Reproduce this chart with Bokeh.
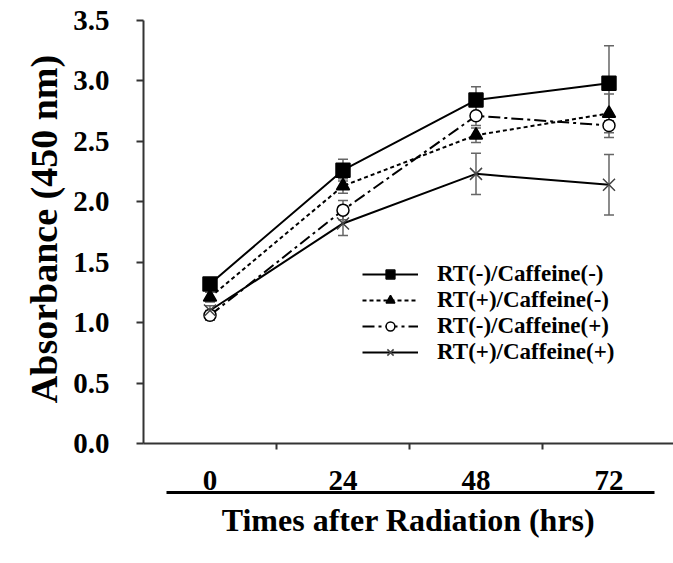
import numpy as np
from bokeh.plotting import figure
from bokeh.models import (Range1d, FixedTicker, LinearAxis, ColumnDataSource,
                          Whisker, TeeHead, Legend, LegendItem, NumeralTickFormatter)
from bokeh.embed import file_html
from bokeh.resources import INLINE

# ---------------- data ----------------
hours = ["0", "24", "48", "72"]
series_names = ["RT(-)/Caffeine(-)", "RT(+)/Caffeine(-)",
                "RT(-)/Caffeine(+)", "RT(+)/Caffeine(+)"]
s1_mean = [1.32, 2.26, 2.84, 2.98]
s1_err = [0.04, 0.09, 0.11, 0.31]
s2_mean = [1.21, 2.13, 2.55, 2.73]
s2_err = [0.04, 0.06, 0.06, 0.16]
s3_mean = [1.06, 1.93, 2.71, 2.63]
s3_err = [0.04, 0.08, 0.08, 0.10]
s4_mean = [1.10, 1.82, 2.23, 2.14]
s4_err = [0.04, 0.10, 0.17, 0.25]
y_ticks = [0.0, 0.5, 1.0, 1.5, 2.0, 2.5, 3.0, 3.5]
y_label = "Absorbance (450 nm)"
x_label = "Times after Radiation (hrs)"

FONT = "Liberation Serif"
x_idx = list(range(len(hours)))

p = figure(width=673, height=563, output_backend="svg", toolbar_location=None,
           x_range=Range1d(-0.5, 3.485), y_range=Range1d(0, 3.548))
p.min_border = 0
p.min_border_left = 143
p.min_border_right = 0
p.min_border_top = 14
p.min_border_bottom = 120
p.outline_line_color = None
p.xgrid.visible = False
p.ygrid.visible = False
p.background_fill_color = "white"
p.border_fill_color = "white"

# ---------------- y axis ----------------
ya = p.yaxis[0]
ya.ticker = FixedTicker(ticks=y_ticks)
ya.formatter = NumeralTickFormatter(format="0.0")
ya.bounds = (y_ticks[0], y_ticks[-1])
ya.axis_line_width = 2
ya.axis_line_color = "#333333"
ya.major_tick_out = 7
ya.major_tick_in = 0
ya.major_tick_line_width = 2
ya.major_tick_line_color = "#333333"
ya.minor_tick_line_color = None
ya.major_label_standoff = 27
ya.major_label_text_font = FONT
ya.major_label_text_font_style = "bold"
ya.major_label_text_font_size = "29px"
ya.major_label_text_color = "black"
ya.axis_label = y_label
ya.axis_label_text_font = FONT
ya.axis_label_text_font_style = "bold"
ya.axis_label_text_font_size = "38px"
ya.axis_label_text_color = "black"
ya.axis_label_standoff = 5

# ---------------- x axis (labels at centers, ticks at boundaries) ----------------
xa = p.xaxis[0]
xa.ticker = FixedTicker(ticks=x_idx, minor_ticks=[i + 0.5 for i in x_idx[:-1]])
xa.major_label_overrides = {i: h for i, h in zip(x_idx, hours)}
xa.axis_line_width = 2
xa.axis_line_color = "#333333"
xa.major_tick_out = 0
xa.major_tick_in = 0
xa.major_tick_line_color = None
xa.minor_tick_out = 6
xa.minor_tick_in = 0
xa.minor_tick_line_width = 2
xa.minor_tick_line_color = "#333333"
xa.major_label_standoff = 21
xa.major_label_text_font = FONT
xa.major_label_text_font_style = "bold"
xa.major_label_text_font_size = "29px"
xa.major_label_text_color = "black"

# spacer between the tick labels and the underline: its only tick lies outside
# the visible range, so it draws nothing but still reserves room
spacer = LinearAxis(ticker=FixedTicker(ticks=[-1.0]))
spacer.axis_line_color = "white"
spacer.major_tick_out = 23
spacer.major_tick_in = 0
spacer.major_tick_line_color = "white"
spacer.minor_tick_out = 0
spacer.minor_tick_in = 0
spacer.minor_tick_line_color = None
spacer.major_label_standoff = 0
spacer.major_label_text_font_size = "0px"
spacer.major_label_text_color = "white"
p.add_layout(spacer, "below")

# second axis below: underline + title
xa2 = LinearAxis(ticker=FixedTicker(ticks=[]), bounds=(-0.33, 3.34))
xa2.axis_line_width = 3
xa2.axis_line_color = "black"
xa2.major_tick_out = 0
xa2.major_tick_in = 0
xa2.minor_tick_out = 0
xa2.minor_tick_in = 0
xa2.major_label_text_font_size = "0px"
xa2.axis_label = x_label
xa2.axis_label_text_font = FONT
xa2.axis_label_text_font_style = "bold"
xa2.axis_label_text_font_size = "32px"
xa2.axis_label_text_color = "black"
xa2.axis_label_standoff = 9
p.add_layout(xa2, "below")

# ---------------- series ----------------
styles = [
    dict(mean=s1_mean, err=s1_err, dash="solid", lw=2, marker="square", size=14,
         fill="black", mline="black"),
    dict(mean=s2_mean, err=s2_err, dash="4 3", lw=2, marker="triangle", size=13,
         fill="black", mline="black"),
    dict(mean=s3_mean, err=s3_err, dash="12 4 3 4", lw=2, marker="circle", size=12,
         fill="white", mline="black"),
    dict(mean=s4_mean, err=s4_err, dash="solid", lw=2, marker="x", size=17,
         fill=None, mline="#444444"),
]

items = []
line_rs = []
for name, st in zip(series_names, styles):
    m = np.array(st["mean"])
    e = np.array(st["err"])
    src = ColumnDataSource(dict(x=x_idx, y=m, upper=m + e, lower=m - e))
    lr = p.line("x", "y", source=src, line_color="black", line_width=st["lw"],
                line_dash=st["dash"])
    w = Whisker(base="x", upper="upper", lower="lower", source=src, dimension="height",
                line_color="#666666", line_width=1.5,
                upper_head=TeeHead(size=10, line_color="#666666", line_width=1.5),
                lower_head=TeeHead(size=10, line_color="#666666", line_width=1.5))
    p.add_layout(w)
    line_rs.append((name, lr, src, st))

for name, lr, src, st in line_rs:
    if st["fill"] is None:
        mr = p.scatter("x", "y", source=src, marker=st["marker"], size=st["size"],
                       line_color=st["mline"], line_width=1.5)
    else:
        mr = p.scatter("x", "y", source=src, marker=st["marker"], size=st["size"],
                       fill_color=st["fill"], line_color=st["mline"], line_width=1.5)
    items.append(LegendItem(label=name, renderers=[lr, mr]))

legend = Legend(items=items, location=(219, 78), orientation="vertical",
                glyph_width=56, glyph_height=22, label_height=22, spacing=0,
                padding=0, margin=0, label_standoff=19,
                border_line_color=None, background_fill_alpha=0,
                label_text_font=FONT, label_text_font_style="bold",
                label_text_font_size="23px", label_text_line_height=1.0,
                label_text_color="black")
p.add_layout(legend)

open("out.html", "w").write(file_html(p, INLINE))
